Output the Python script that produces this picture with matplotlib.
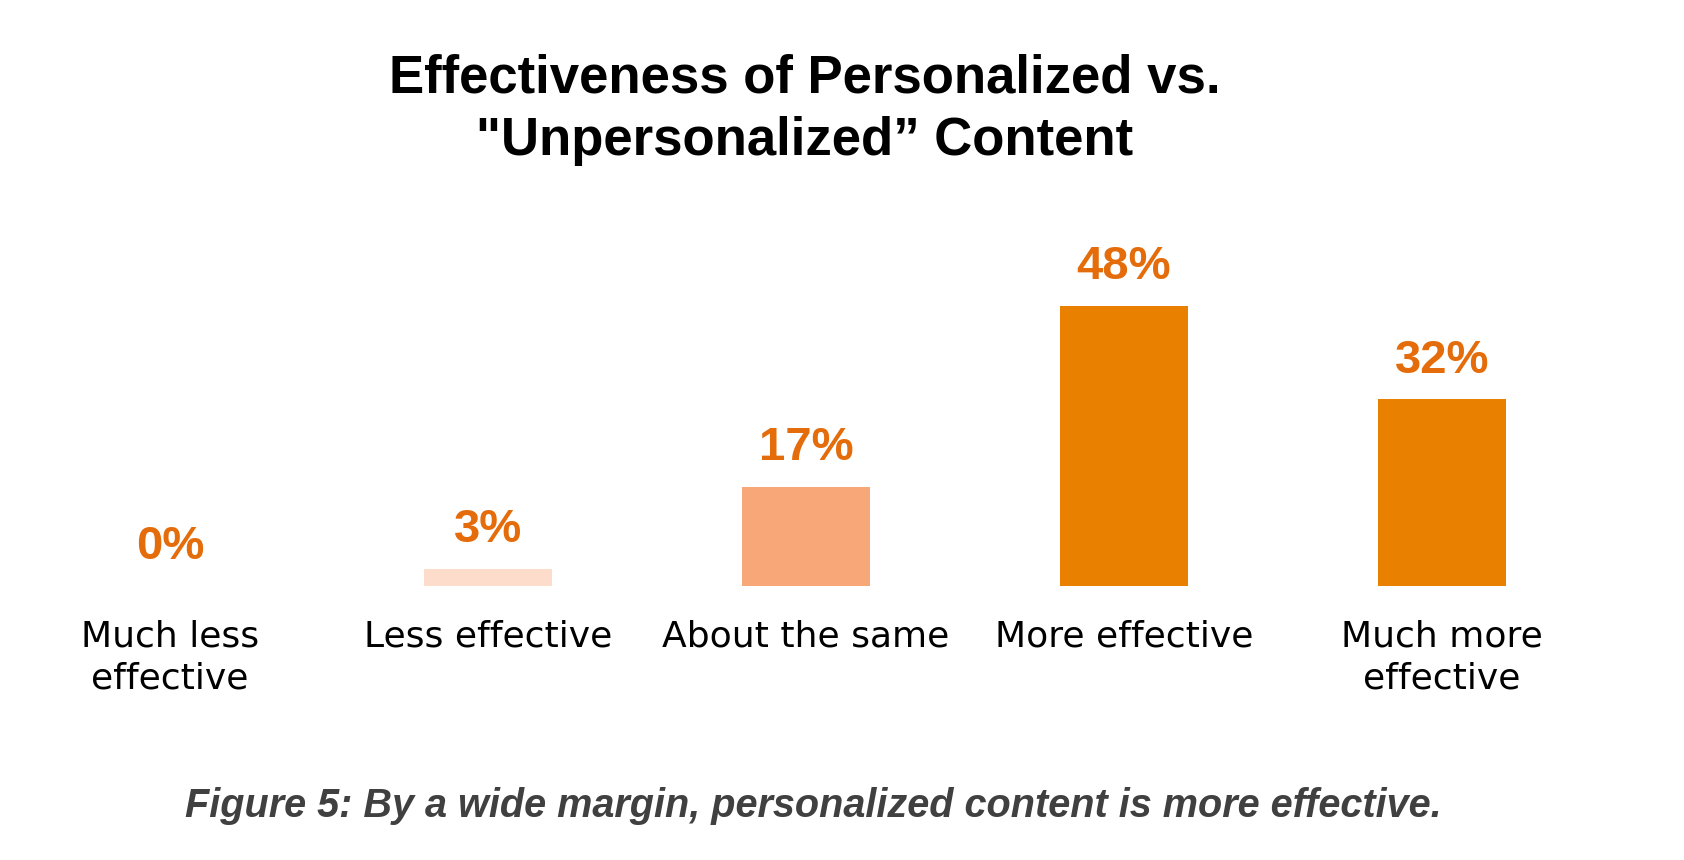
import numpy as np
import matplotlib.pyplot as plt

# Survey data
categories = ['Much less\neffective', 'Less effective', 'About the same',
              'More effective', 'Much more\neffective']
values = [0, 3, 17, 48, 32]
colors = ['#FDDCCB', '#FDDCCB', '#F8A878', '#EA8000', '#EA8000']

title = 'Effectiveness of Personalized vs.\n"Unpersonalized\u201d Content'
caption = 'Figure 5: By a wide margin, personalized content is more effective.'

fig = plt.figure(figsize=(16.84, 8.6), dpi=100)
ax = fig.add_axes([11 / 1684, 274 / 860, 1590 / 1684, 291.5 / 860])

x = np.arange(len(categories))
ax.bar(x, values, width=0.40, color=colors)
ax.set_xlim(-0.5, len(categories) - 0.5)
ax.set_ylim(0, 50)

for xi, v in zip(x, values):
    ax.annotate(f'{v}%', (xi, v), xytext=(0, 12), textcoords='offset points',
                ha='center', va='bottom', fontsize=34, fontweight='bold',
                color='#E46C0A', family='Liberation Sans')

ax.set_xticks(x)
ax.set_xticklabels(categories, fontsize=26, family='DejaVu Sans', linespacing=1.3)
ax.tick_params(axis='x', length=0, pad=24)
ax.set_yticks([])
for s in ax.spines.values():
    s.set_visible(False)

fig.text(805 / 1684, 1 - 110 / 860, title, ha='center', va='center',
         fontsize=38, fontweight='bold', family='Liberation Sans', linespacing=1.32)
fig.text(813 / 1684, 1 - 806 / 860, caption, ha='center', va='center',
         fontsize=28.5, fontweight='bold', style='italic', color='#404040',
         family='Liberation Sans')

fig.savefig('out.png', dpi=100)
